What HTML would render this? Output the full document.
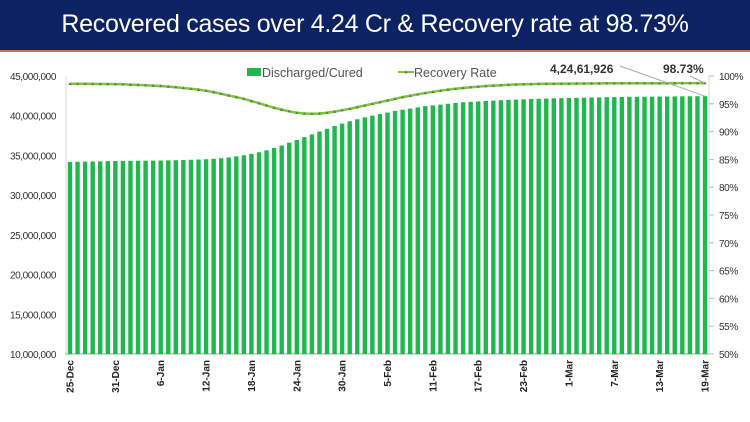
<!DOCTYPE html>
<html><head><meta charset="utf-8">
<style>
body{margin:0;width:750px;height:422px;background:#fff;overflow:hidden;font-family:"Liberation Sans",sans-serif;}
#banner{position:absolute;left:0;top:0;width:750px;height:50px;background:#0c2262;color:#fff;font-size:25px;text-align:center;line-height:48px;letter-spacing:-0.3px;}
#rule{position:absolute;left:0;top:50px;width:750px;height:2px;background:#b8765a;}
svg{position:absolute;left:0;top:0;}
</style></head><body>
<div id="banner">Recovered cases over 4.24 Cr &amp; Recovery rate at 98.73%</div>
<div id="rule"></div>
<svg id="chart" width="750" height="422"></svg>
<script>
const startDate = [2021, 11, 25]; // 25-Dec
const discharged = [34.18,34.20,34.22,34.24,34.26,34.28,34.30,
34.31,34.32,34.33,34.34,34.35,34.36,34.38,34.40,34.42,34.45,34.48,
34.52,34.58,34.65,34.75,34.88,35.02,
35.2,35.4,35.65,35.95,36.25,36.6,
36.95,37.3,37.65,38.0,38.35,38.7,
39.0,39.3,39.55,39.8,40.0,40.2,
40.4,40.6,40.75,40.9,41.05,41.2,
41.3,41.4,41.5,41.6,41.7,41.75,
41.8,41.85,41.9,41.95,42.0,42.03,
42.06,42.1,42.13,42.16,42.19,42.21,
42.23,42.25,42.27,42.29,42.31,42.33,
42.35,42.36,42.37,42.38,42.39,42.40,
42.41,42.42,42.43,42.44,42.45,42.455,42.46];
const recoveryRate = [98.6,98.6,98.6,98.58,98.57,98.56,98.55,
98.5,98.45,98.4,98.35,98.28,98.2,98.1,97.98,97.85,97.7,97.55,
97.35,97.1,96.8,96.5,96.2,95.9,
95.5,95.1,94.7,94.3,93.95,93.65,
93.4,93.25,93.2,93.25,93.4,93.6,
93.85,94.1,94.4,94.7,95.0,95.3,
95.6,95.9,96.2,96.45,96.7,96.95,
97.15,97.35,97.55,97.7,97.85,97.98,
98.1,98.2,98.28,98.35,98.42,98.48,
98.52,98.55,98.58,98.6,98.62,98.63,
98.64,98.65,98.66,98.67,98.67,98.68,
98.68,98.69,98.69,98.7,98.7,98.7,
98.71,98.71,98.72,98.72,98.72,98.73,98.73];
const leftTicks = [10,15,20,25,30,35,40,45];
const leftTickLabels = ["10,000,000","15,000,000","20,000,000","25,000,000","30,000,000","35,000,000","40,000,000","45,000,000"];
const rightTicks = [50,55,60,65,70,75,80,85,90,95,100];
const dateLabels = ["25-Dec","31-Dec","6-Jan","12-Jan","18-Jan","24-Jan","30-Jan","5-Feb","11-Feb","17-Feb","23-Feb","1-Mar","7-Mar","13-Mar","19-Mar"];
const annotationValue = "4,24,61,926";
const annotationRate = "98.73%";

const NS="http://www.w3.org/2000/svg";
const svg=document.getElementById('chart');
const X0=70, X1=705, Y0=354, Y1=76;
const n=discharged.length;
const xs=i=>X0+(X1-X0)*i/(n-1);
const yL=v=>Y0-(v-10)/(45-10)*(Y0-Y1);
const yR=v=>Y0-(v-50)/(100-50)*(Y0-Y1);
function mk(tag,attrs,parent){const e=document.createElementNS(NS,tag);for(const k in attrs)e.setAttribute(k,attrs[k]);(parent||svg).appendChild(e);return e;}

// axes
const ax=mk('line',{x1:X0-5,y1:Y0,x2:X1+4,y2:Y0,stroke:'#d0d0d0','stroke-width':2});


const ay=mk('line',{x1:X0-4,y1:Y1,x2:X0-4,y2:Y0,stroke:'#d9d9d9','stroke-width':1});


const ar=mk('line',{x1:X1+4,y1:Y1,x2:X1+4,y2:Y0,stroke:'#d9d9d9','stroke-width':1});



leftTicks.forEach((v,i)=>{
  const t=mk('text',{x:56,y:yL(v)+4,'text-anchor':'end','font-size':10,fill:'#333','letter-spacing':'-0.4'});
  t.textContent=leftTickLabels[i];
  
  
});
rightTicks.forEach(v=>{
  const tk=mk('line',{x1:X1+4,y1:yR(v),x2:X1+9,y2:yR(v),stroke:'#bbb'});
  
  
  const t=mk('text',{x:X1+14,y:yR(v)+4,'font-size':10,fill:'#333','letter-spacing':'-0.4'});
  t.textContent=v+'%';
  
  
});

// bars
discharged.forEach((v,i)=>{
  const b=mk('rect',{x:xs(i)-2.2,y:yL(v),width:4.4,height:Y0-yL(v),fill:'#1fb84e'});
  
  
});

// line
const pts=recoveryRate.map((v,i)=>xs(i).toFixed(1)+','+yR(v).toFixed(1)).join(' ');
const pl=mk('polyline',{points:pts,fill:'none',stroke:'#7fc24a','stroke-width':2.5});


recoveryRate.forEach((v,i)=>{
  const m=mk('path',{d:`M${xs(i)-1.6},${yR(v)+1.2} L${xs(i)},${yR(v)-1.6} L${xs(i)+1.6},${yR(v)+1.2} Z`,fill:'#4e8a2a'});
  
  
});

// date labels
dateLabels.forEach((d,k)=>{
  const x=xs(k*6);
  const t=mk('text',{transform:`translate(${x+3.5},360) rotate(-90)`,'text-anchor':'end','font-size':10,'font-weight':'bold',fill:'#222'});
  t.textContent=d;
  
  
});

// legend
const lb=mk('rect',{x:247,y:68,width:14,height:8,fill:'#1fb84e'});


const lt=mk('text',{x:262,y:77,'font-size':12.5,fill:'#555'});
lt.textContent='Discharged/Cured';


const ll=mk('line',{x1:398,y1:72,x2:414,y2:72,stroke:'#7fc24a','stroke-width':2});


const lm=mk('path',{d:'M404.4,73.2 L406,70.4 L407.6,73.2 Z',fill:'#4e8a2a'});


const lt2=mk('text',{x:414,y:77,'font-size':12.5,fill:'#555'});
lt2.textContent='Recovery Rate';



// annotations
const a1=mk('text',{x:550,y:73,'font-size':12,'font-weight':'bold',fill:'#333'});
a1.textContent=annotationValue;


const a1l=mk('line',{x1:620,y1:66,x2:xs(n-1),y2:yL(discharged[n-1]),stroke:'#aaa'});


const a2=mk('text',{x:663,y:73,'font-size':12,'font-weight':'bold',fill:'#333'});
a2.textContent=annotationRate;


const a2l=mk('line',{x1:690,y1:76,x2:xs(n-1),y2:yR(recoveryRate[n-1]),stroke:'#aaa'});


</script>
</body></html>
